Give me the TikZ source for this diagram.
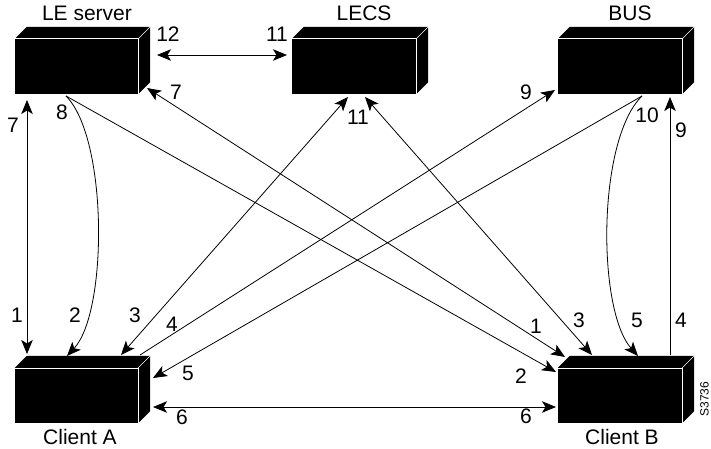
\documentclass[tikz,border=0pt]{standalone}
\usepackage{fontspec}
\setmainfont{Liberation Sans}
\usetikzlibrary{arrows.meta}
\begin{document}
\begin{tikzpicture}[x=1pt,y=-1pt,
  lbl/.style={font=\fontsize{21}{21}\selectfont, inner sep=0pt, anchor=base},
  front/.style={fill=black, inner sep=0pt, minimum height=55pt},
  conn/.style={line width=0.8pt},
  tip/.tip={Stealth[length=14pt,width=11.5pt,inset=3.5pt]}
]
\useasboundingbox (0,0) rectangle (711,449);
\newcommand\mybox[1]{%
  \fill[black] (#1.north west) -- ++(12,-12) -- ([shift={(12,-12)}]#1.north east)
     -- ([shift={(12,-12)}]#1.south east) -- (#1.south east) -- (#1.north east) -- cycle;
  \draw[white, line width=0.6pt] (#1.north west) -- (#1.north east) -- (#1.south east);
  \draw[white, line width=0.6pt] (#1.north east) -- ++(12,-12);
}
% boxes
\node[front, minimum width=123pt] (les)  at (76.5,66.5) {};
\node[front, minimum width=124pt] (lecs) at (354,66.5) {};
\node[front, minimum width=124pt] (bus)  at (620,66.5) {};
\node[front, minimum width=123pt] (ca)   at (76.5,395.5) {};
\node[front, minimum width=124pt] (cb)   at (620,395.5) {};
\mybox{les}\mybox{lecs}\mybox{bus}\mybox{ca}\mybox{cb}
% titles
\node[lbl] (tles)  at (87,21)  {LE server};
\node[lbl] (tlecs) at (364,21) {LECS};
\node[lbl] (tbus)  at (630,21) {BUS};
\node[lbl] (tca)   at (80,444) {Client A};
\node[lbl] (tcb)   at (622,444) {Client B};
% connection points
\coordinate (lesV) at (27,100);   \coordinate (caV) at (27,354);
\coordinate (lesB) at (66,96);    \coordinate (caC) at (67,356);
\coordinate (lesR) at (157,55);   \coordinate (lecsL) at (287,55);
\coordinate (lesK) at (147,88);   \coordinate (cbK) at (565,357);
\coordinate (cbL2) at (556,372);
\coordinate (ca3) at (121,355);   \coordinate (lecs1) at (348,97);
\coordinate (lecs2) at (365,97);  \coordinate (cb3) at (592,355);
\coordinate (ca4) at (140,355);   \coordinate (bus9) at (555,90);
\coordinate (busB) at (642,96);   \coordinate (ca5) at (153,378);
\coordinate (cb5) at (638,356);
\coordinate (cbV) at (670,355);   \coordinate (busV) at (670,97);
\coordinate (ca6) at (153,407);   \coordinate (cb6) at (556,407);
% connectors
\draw[conn, tip-tip] (lesV) -- (caV);
\draw[conn, -tip] (lesB) .. controls (108,138) and (108,312) .. (caC);
\draw[conn, tip-tip] (lesR) -- (lecsL);
\draw[conn, tip-tip] (lesK) -- (cbK);
\draw[conn, -tip] (lesB) -- (cbL2);
\draw[conn, tip-tip] (ca3) -- (lecs1);
\draw[conn, tip-tip] (lecs2) -- (cb3);
\draw[conn, -tip] (ca4) -- (bus9);
\draw[conn, -tip] (busB) -- (ca5);
\draw[conn, -tip] (busB) .. controls (597,140) and (597,310) .. (cb5);
\draw[conn, -tip] (cbV) -- (busV);
\draw[conn, tip-tip] (ca6) -- (cb6);
% step numbers
\node[lbl] (n12)  at (168,42)  {12};
\node[lbl] (n7a)  at (176,100) {7};
\node[lbl] (n8)   at (62,120)  {8};
\node[lbl] (n7b)  at (13,133)  {7};
\node[lbl] (n1a)  at (17,322)  {1};
\node[lbl] (n2a)  at (75,322)  {2};
\node[lbl] (n3a)  at (135,322) {3};
\node[lbl] (n4a)  at (172,331) {4};
\node[lbl] (n5a)  at (188,380) {5};
\node[lbl] (n6a)  at (182,424) {6};
\node[lbl] (n11a) at (277,42)  {11};
\node[lbl] (n11b) at (358,125) {11};
\node[lbl] (n9a)  at (526,100) {9};
\node[lbl] (n10)  at (647,123) {10};
\node[lbl] (n9b)  at (681,138) {9};
\node[lbl] (n4b)  at (681,327) {4};
\node[lbl] (n5b)  at (637,327) {5};
\node[lbl] (n3b)  at (579,327) {3};
\node[lbl] (n1b)  at (536,333) {1};
\node[lbl] (n2b)  at (521,383) {2};
\node[lbl] (n6b)  at (526,423) {6};
\node[font=\fontsize{12}{12}\selectfont, inner sep=0pt, rotate=90] (sid) at (704.5,399) {S3736};
\end{tikzpicture}
\end{document}
